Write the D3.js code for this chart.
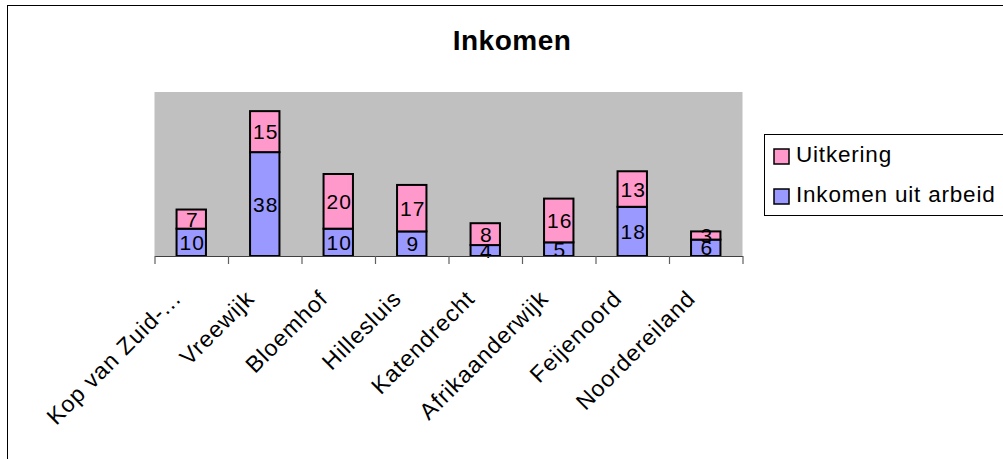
<!DOCTYPE html>
<html>
<head>
<meta charset="utf-8">
<script src="https://cdn.jsdelivr.net/npm/d3@7"></script>
<style>
  html, body { margin: 0; padding: 0; background: #fff; }
  svg { display: block; font-family: "Liberation Sans", Arial, sans-serif; }
</style>
</head>
<body>
<svg id="chart" width="1003" height="459"></svg>
<script>
// Neighbourhoods and their income composition (stacked: arbeid at the bottom, uitkering on top)
const categories = ["Kop van Zuid-...", "Vreewijk", "Bloemhof", "Hillesluis", "Katendrecht", "Afrikaanderwijk", "Feijenoord", "Noordereiland"];
const inkomenUitArbeid = [10, 38, 10, 9, 4, 5, 18, 6];
const uitkering = [7, 15, 20, 17, 8, 16, 13, 3];
const seriesNames = ["Uitkering", "Inkomen uit arbeid"];
const seriesColors = ["#FF99CC", "#9999FF"];
const yMax = 60;

const svg = d3.select("#chart");

// Outer chart frame
svg.append("rect")
  .attr("x", 7.5).attr("y", 5.5)
  .attr("width", 1100).attr("height", 500)
  .attr("fill", "#fff").attr("stroke", "#000").attr("stroke-width", 1);

const plot = { left: 154.5, right: 742.5, top: 92, bottom: 256 };

const x = d3.scaleBand()
  .domain(categories)
  .range([plot.left, plot.right])
  .paddingInner(0.6)
  .paddingOuter(0.3);

const y = d3.scaleLinear()
  .domain([0, yMax])
  .range([plot.bottom, plot.top]);

// Grey plot area
svg.append("rect")
  .attr("x", plot.left).attr("y", plot.top)
  .attr("width", plot.right - plot.left).attr("height", plot.bottom - plot.top)
  .attr("fill", "#C0C0C0");

// Stack the two series
const rows = categories.map((c, i) => ({ cat: c, arbeid: inkomenUitArbeid[i], uitkering: uitkering[i] }));
const stack = d3.stack().keys(["arbeid", "uitkering"]);
const layers = stack(rows);
const layerColor = { arbeid: seriesColors[1], uitkering: seriesColors[0] };

const barW = x.bandwidth();
layers.forEach(layer => {
  const g = svg.append("g");
  g.selectAll("rect")
    .data(layer)
    .join("rect")
    .attr("x", d => x(d.data.cat))
    .attr("y", d => y(d[1]))
    .attr("width", barW)
    .attr("height", d => y(d[0]) - y(d[1]))
    .attr("fill", layerColor[layer.key])
    .attr("stroke", "#000")
    .attr("stroke-width", 2);
});

// Value labels centred in each segment
layers.forEach(layer => {
  svg.append("g")
    .selectAll("text")
    .data(layer)
    .join("text")
    .attr("x", d => x(d.data.cat) + barW / 2 + 1)
    .attr("y", d => (y(d[0]) + y(d[1])) / 2)
    .attr("dy", "0.36em")
    .attr("text-anchor", "middle")
    .attr("font-size", 21)
    .attr("letter-spacing", 1)
    .attr("fill", "#000")
    .text(d => d[1] - d[0]);
});

// Category axis with ticks on the band boundaries
const edge = d3.scaleLinear().domain([0, categories.length]).range([plot.left, plot.right]);
const axis = svg.append("g")
  .attr("transform", `translate(0,${plot.bottom})`)
  .call(d3.axisBottom(edge).tickValues(d3.range(categories.length + 1)).tickFormat("").tickSize(8).tickSizeOuter(0));
axis.select(".domain").attr("stroke", "#404040").attr("stroke-width", 1.2);
axis.selectAll(".tick line").attr("stroke", "#606060").attr("stroke-width", 1.2);

// Rotated category labels
svg.append("g")
  .selectAll("text")
  .data(categories)
  .join("text")
  .attr("transform", d => `translate(${x(d) + barW / 2 - 9},${plot.bottom + 44}) rotate(-45)`)
  .attr("text-anchor", "end")
  .attr("font-size", 23)
  .attr("letter-spacing", 1)
  .attr("fill", "#000")
  .text(d => d);

// Title
svg.append("text")
  .attr("x", 512).attr("y", 50)
  .attr("text-anchor", "middle")
  .attr("font-size", 28)
  .attr("font-weight", "bold")
  .attr("letter-spacing", 0.5)
  .text("Inkomen");

// Legend
const legend = svg.append("g");
legend.append("rect")
  .attr("x", 764.5).attr("y", 134.5)
  .attr("width", 300).attr("height", 81)
  .attr("fill", "#fff").attr("stroke", "#000").attr("stroke-width", 1);
const legendRow = legend.selectAll("g.item")
  .data(seriesNames)
  .join("g")
  .attr("class", "item")
  .attr("transform", (d, i) => `translate(774,${149 + i * 40})`);
legendRow.append("rect")
  .attr("width", 15).attr("height", 15)
  .attr("fill", (d, i) => seriesColors[i])
  .attr("stroke", "#000").attr("stroke-width", 1.5);
legendRow.append("text")
  .attr("x", 22).attr("y", 13)
  .attr("font-size", 22.5)
  .attr("letter-spacing", 0.8)
  .text(d => d);
</script>
</body>
</html>
